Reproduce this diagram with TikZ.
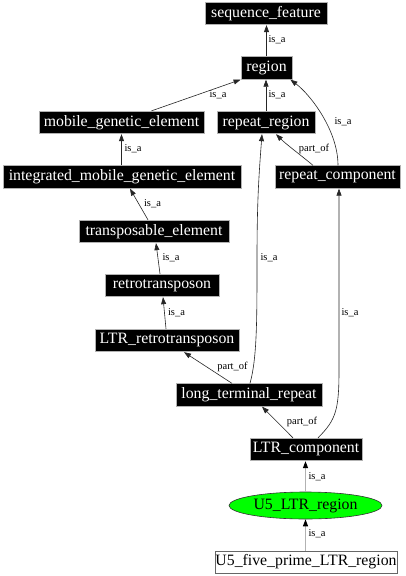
\documentclass[tikz,border=0pt]{standalone}
\usepackage{fontspec}
\setmainfont{Liberation Serif}
\usetikzlibrary{arrows.meta,shapes.geometric,calc}
\begin{document}
\begin{tikzpicture}[x=1pt,y=-1pt,
  box/.style={rectangle,fill=black,draw=gray!60,line width=0.8pt,text=white,inner sep=0pt,
    minimum height=22.5pt,font=\fontsize{15.8}{17}\selectfont},
  wbox/.style={rectangle,fill=white,draw=gray!80!black,line width=0.8pt,text=black,inner sep=0pt,
    minimum height=22pt,font=\fontsize{15.8}{17}\selectfont},
  ell/.style={ellipse,fill={rgb,255:red,0;green,255;blue,0},draw=black!80,line width=0.6pt,inner sep=0pt,
    minimum width=153pt,minimum height=27pt,font=\fontsize{15.8}{17}\selectfont},
  lbl/.style={font=\fontsize{10.5}{12}\selectfont,inner sep=0pt,text=black},
  edge/.style={draw=black!85,line width=0.6pt,-{Triangle[length=7pt,width=5pt]}},
  gedge/.style={draw=gray!60,line width=1.3pt,-{Triangle[length=7pt,width=5pt,fill=black,color=black]}}
]
\useasboundingbox[fill=white] (0,0) rectangle (406,576);

\node[box,minimum width=122pt] (sf) at (266,13.5) {sequence\_feature};
\node[box,minimum width=51pt] (region) at (266.5,68) {region};
\node[box,minimum width=165pt] (mge) at (121.5,122.5) {mobile\_genetic\_element};
\node[box,minimum width=98pt] (rr) at (266,122.5) {repeat\_region};
\node[box,minimum width=238pt] (imge) at (122,177) {integrated\_mobile\_genetic\_element};
\node[box,minimum width=125pt] (rc) at (337.5,177) {repeat\_component};
\node[box,minimum width=150pt] (te) at (154,231.5) {transposable\_element};
\node[box,minimum width=114pt] (rt) at (162,285.5) {retrotransposon};
\node[box,minimum width=144pt] (ltrrt) at (167,340.5) {LTR\_retrotransposon};
\node[box,minimum width=146pt] (ltr) at (249,395) {long\_terminal\_repeat};
\node[box,minimum width=112pt] (ltrc) at (306,449.5) {LTR\_component};
\node[ell] (u5) at (305.5,505.5) {U5\_LTR\_region};
\node[wbox,minimum width=182pt] (u5fp) at (306,562) {U5\_five\_prime\_LTR\_region};

% edges
\draw[edge] (region.north) -- (region.north |- sf.south);
\draw[edge] ([xshift=30pt]mge.north) -- (region.south west);
\draw[edge] (rr.north) -- (rr.north |- region.south);
\draw[edge] ([xshift=0.5pt]rc.north) .. controls +(0,-35) and +(20,15) .. ([xshift=-2pt]region.south east);
\draw[edge] (imge.north -| mge.south) -- (mge.south);
\draw[edge] ([xshift=-24.5pt]rc.north) .. controls +(-12,-10) and +(10,10) .. ([xshift=10pt]rr.south);
\draw[edge] ([xshift=-6pt]te.north) -- ([xshift=8pt]imge.south);
\draw[edge] ([xshift=-2pt]rt.north) -- ([xshift=2pt]te.south);
\draw[edge] ([xshift=-1pt]ltrrt.north) -- ([xshift=1pt]rt.south);
\draw[edge] ([xshift=-17pt]ltr.north) -- ([xshift=17pt]ltrrt.south);
\draw[edge] ([xshift=1pt]ltr.north) .. controls +(7,-25) and +(0,60) .. (257,260) .. controls +(0,-60) and +(-3,40) .. ([xshift=-4pt]rr.south);
\draw[edge] ([xshift=-13pt]ltrc.north) -- ([xshift=13pt]ltr.south);
\draw[edge] ([xshift=12pt]ltrc.north) .. controls +(18,-18) and +(0,40) .. (339,370) -- ([xshift=1.5pt]rc.south);
\draw[gedge] (u5.north) -- (u5.north |- ltrc.south);
\draw[gedge] (u5fp.north -| u5.south) -- (u5.south);

% edge labels
\node[lbl] (l1) at (277,40) {is\_a};
\node[lbl] (l2) at (218,95) {is\_a};
\node[lbl] (l3) at (277,95) {is\_a};
\node[lbl] (l4) at (343,122) {is\_a};
\node[lbl] (l5) at (133,149) {is\_a};
\node[lbl] (l6) at (314,149) {part\_of};
\node[lbl] (l7) at (152.5,204) {is\_a};
\node[lbl] (l8) at (269,258) {is\_a};
\node[lbl] (l9) at (171,258) {is\_a};
\node[lbl] (l10) at (176.5,313) {is\_a};
\node[lbl] (l11) at (350,313) {is\_a};
\node[lbl] (l12) at (232.5,366.5) {part\_of};
\node[lbl] (l13) at (302,422) {part\_of};
\node[lbl] (l14) at (317,477) {is\_a};
\node[lbl] (l15) at (317,534) {is\_a};
\end{tikzpicture}
\end{document}
